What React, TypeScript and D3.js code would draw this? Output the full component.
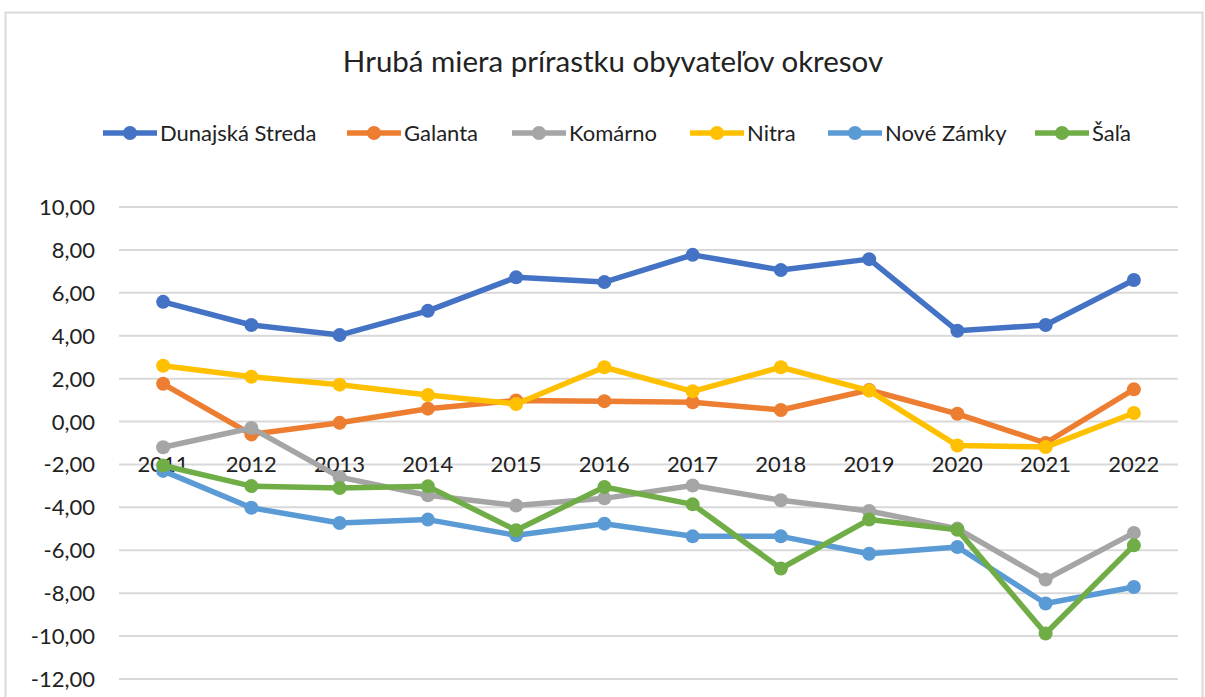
import React, { useEffect, useRef } from "react";
import * as d3 from "d3";

const years = ["2011", "2012", "2013", "2014", "2015", "2016", "2017", "2018", "2019", "2020", "2021", "2022"];

const dunajskaStreda = [5.58, 4.5, 4.03, 5.16, 6.72, 6.5, 7.77, 7.06, 7.57, 4.23, 4.5, 6.6];
const galanta = [1.76, -0.6, -0.06, 0.6, 0.98, 0.95, 0.9, 0.54, 1.47, 0.36, -1.0, 1.5];
const komarno = [-1.2, -0.3, -2.59, -3.44, -3.91, -3.58, -2.98, -3.67, -4.17, -4.99, -7.36, -5.19];
const nitra = [2.6, 2.09, 1.72, 1.24, 0.82, 2.53, 1.41, 2.53, 1.44, -1.12, -1.19, 0.4];
const noveZamky = [-2.3, -4.02, -4.73, -4.57, -5.3, -4.76, -5.35, -5.35, -6.16, -5.85, -8.48, -7.71];
const sala = [-2.05, -3.01, -3.1, -3.02, -5.07, -3.05, -3.86, -6.85, -4.57, -5.04, -9.88, -5.77];

const seriesNames = ["Dunajská Streda", "Galanta", "Komárno", "Nitra", "Nové Zámky", "Šaľa"];
const seriesValues = [dunajskaStreda, galanta, komarno, nitra, noveZamky, sala];
const colors = ["#4472C4", "#ED7D31", "#A5A5A5", "#FFC000", "#5B9BD5", "#70AD47"];

const yTicks = [10, 8, 6, 4, 2, 0, -2, -4, -6, -8, -10, -12];

const FONT = "Lato, 'Open Sans', sans-serif";

const App = () => {
  const svgRef = useRef<SVGSVGElement>(null);

  useEffect(() => {
    const svg = d3.select(svgRef.current);
    svg.selectAll("*").remove();

    const width = 1205;
    const height = 697;
    const plot = { left: 119, right: 1178, top: 207, bottom: 679 };

    const x = d3.scaleBand().domain(years).range([plot.left, plot.right]);
    const y = d3.scaleLinear().domain([-12, 10]).range([plot.bottom, plot.top]);
    const cx = (i: number) => x(years[i])! + x.bandwidth() / 2;

    svg.append("rect").attr("width", width).attr("height", height).attr("fill", "white");

    // chart area border
    svg
      .append("rect")
      .attr("x", 5.5)
      .attr("y", 12.5)
      .attr("width", 1197)
      .attr("height", 700)
      .attr("fill", "none")
      .attr("stroke", "#d9d9d9")
      .attr("stroke-width", 2);

    svg
      .append("text")
      .attr("x", 613)
      .attr("y", 72)
      .attr("text-anchor", "middle")
      .attr("font-family", FONT)
      .attr("font-size", 29.5)
      .attr("fill", "#222")
      .text("Hrubá miera prírastku obyvateľov okresov");

    // gridlines
    svg
      .append("g")
      .selectAll("line")
      .data(yTicks)
      .join("line")
      .attr("x1", plot.left)
      .attr("x2", plot.right)
      .attr("y1", (d) => y(d))
      .attr("y2", (d) => y(d))
      .attr("stroke", "#d9d9d9")
      .attr("stroke-width", 2);

    // y labels
    svg
      .append("g")
      .selectAll("text")
      .data(yTicks)
      .join("text")
      .attr("x", 95)
      .attr("y", (d) => y(d) + 8)
      .attr("text-anchor", "end")
      .attr("font-family", FONT)
      .attr("font-size", 22)
      .attr("fill", "#222")
      .text((d) => d3.format(".2f")(d).replace(".", ",").replace("−", "-"));

    // x labels (next to axis at 0)
    svg
      .append("g")
      .selectAll("text")
      .data(years)
      .join("text")
      .attr("x", (_, i) => cx(i))
      .attr("y", y(0) + 50)
      .attr("text-anchor", "middle")
      .attr("font-family", FONT)
      .attr("font-size", 22)
      .attr("fill", "#222")
      .text((d) => d);

    const line = d3
      .line<number>()
      .x((_, i) => cx(i))
      .y((d) => y(d));

    seriesValues.forEach((vals, si) => {
      const g = svg.append("g");
      g.append("path")
        .datum(vals)
        .attr("fill", "none")
        .attr("stroke", colors[si])
        .attr("stroke-width", 5.5)
        .attr("stroke-linejoin", "round")
        .attr("d", line);
      g.selectAll("circle")
        .data(vals)
        .join("circle")
        .attr("cx", (_, i) => cx(i))
        .attr("cy", (d) => y(d))
        .attr("r", 7)
        .attr("fill", colors[si]);
    });

    // legend
    const legendX = [103, 347, 512, 690, 828, 1035];
    const legendY = 133;
    seriesNames.forEach((name, i) => {
      const g = svg.append("g").attr("transform", `translate(${legendX[i]},${legendY})`);
      g.append("line")
        .attr("x1", 0)
        .attr("x2", 54)
        .attr("stroke", colors[i])
        .attr("stroke-width", 5.5);
      g.append("circle").attr("cx", 27).attr("r", 7).attr("fill", colors[i]);
      g.append("text")
        .attr("x", 57)
        .attr("y", 8)
        .attr("font-family", FONT)
        .attr("font-size", 22)
        .attr("fill", "#222")
        .text(name);
    });
  }, []);

  return (
    <svg
      ref={svgRef}
      width={1205}
      height={697}
      style={{ position: "absolute", left: 0, top: 0, display: "block" }}
    />
  );
};

export default App;
